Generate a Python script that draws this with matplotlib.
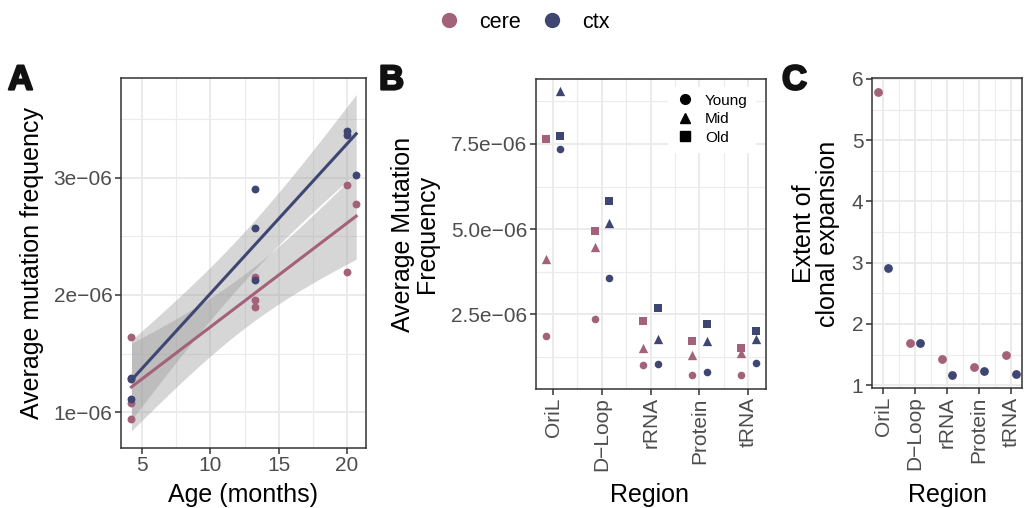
import numpy as np
import matplotlib.pyplot as plt
import matplotlib.patheffects as pe
from matplotlib.lines import Line2D
from matplotlib.ticker import FixedLocator, FuncFormatter

plt.rcParams['font.family'] = ['Liberation Sans', 'DejaVu Sans']

cere_col = "#A3617A"
ctx_col = "#3F4672"

# Panel A: age (months) vs average mutation frequency
ages = [4.2, 4.2, 4.2, 13.3, 13.3, 13.3, 20.0, 20.0, 20.7]
cere_freq = [1.645e-6, 1.08e-6, 0.945e-6, 2.156e-6, 1.957e-6, 1.90e-6, 2.938e-6, 2.199e-6, 2.776e-6]
ctx_freq = [1.29e-6, 1.28e-6, 1.11e-6, 2.90e-6, 2.57e-6, 2.13e-6, 3.395e-6, 3.367e-6, 3.023e-6]

# Panel B: average mutation frequency by region and age group
regions = ["OriL", "D\u2212Loop", "rRNA", "Protein", "tRNA"]
age_groups = ["Young", "Mid", "Old"]
cere_young = [1.875e-6, 2.356e-6, 1.007e-6, 0.722e-6, 0.722e-6]
cere_mid = [4.126e-6, 4.469e-6, 1.523e-6, 1.30e-6, 1.359e-6]
cere_old = [7.647e-6, 4.947e-6, 2.306e-6, 1.72e-6, 1.523e-6]
ctx_young = [7.344e-6, 3.568e-6, 1.045e-6, 0.819e-6, 1.066e-6]
ctx_mid = [9.064e-6, 5.173e-6, 1.787e-6, 1.72e-6, 1.787e-6]
ctx_old = [7.735e-6, 5.828e-6, 2.697e-6, 2.218e-6, 2.013e-6]

# Panel C: extent of clonal expansion
cere_clonal = [5.785, 1.685, 1.434, 1.30, 1.49]
ctx_clonal = [2.908, 1.69, 1.168, 1.238, 1.184]

W, H = 1025, 508
fig = plt.figure(figsize=(W / 100, H / 100), dpi=100)


def box(left, top, right, bottom):
    return [left / W, 1 - bottom / H, (right - left) / W, (bottom - top) / H]


def ftext(x, y, s, **kw):
    return fig.text(x / W, 1 - y / H, s, **kw)


def style(ax):
    for s in ax.spines.values():
        s.set_color("#333333")
        s.set_linewidth(1.1)
    ax.grid(which="major", color="#EBEBEB", lw=1.4)
    ax.grid(which="minor", color="#EBEBEB", lw=0.8)
    ax.set_axisbelow(True)
    ax.tick_params(which="major", length=4, width=1.1, color="#333333",
                   labelcolor="#4D4D4D", labelsize=15, pad=2)
    ax.tick_params(which="minor", length=0)


# ---- A ----
axA = fig.add_axes(box(120.7, 78.3, 366, 447.7))
style(axA)
x = np.array(ages)
xs = np.linspace(x.min(), x.max(), 80)
t975 = 2.365  # t quantile, df = 7
for yv, col in [(cere_freq, cere_col), (ctx_freq, ctx_col)]:
    y = np.array(yv)
    b, a = np.polyfit(x, y, 1)
    res = y - (a + b * x)
    s = np.sqrt(np.sum(res ** 2) / (len(x) - 2))
    se = s * np.sqrt(1 / len(x) + (xs - x.mean()) ** 2 / np.sum((x - x.mean()) ** 2))
    fit = a + b * xs
    axA.fill_between(xs, fit - t975 * se, fit + t975 * se, color="#999999", alpha=0.4, lw=0, zorder=2)
    axA.plot(xs, fit, color=col, lw=2.2, zorder=3)
    axA.scatter(x, y, color=col, s=32, lw=0, zorder=4)
axA.set_xlim(3.41, 21.42)
axA.set_ylim(0.698e-6, 3.847e-6)
axA.xaxis.set_major_locator(FixedLocator([5, 10, 15, 20]))
axA.xaxis.set_minor_locator(FixedLocator([7.5, 12.5, 17.5]))
axA.yaxis.set_major_locator(FixedLocator([1e-6, 2e-6, 3e-6]))
axA.yaxis.set_minor_locator(FixedLocator([1.5e-6, 2.5e-6, 3.5e-6]))
axA.yaxis.set_major_formatter(FuncFormatter(lambda v, p: f"{v * 1e6:g}e\u221206"))

# ---- B ----
axB = fig.add_axes(box(535.7, 79, 765.7, 389))
style(axB)
pos = np.arange(len(regions))
markers = ["o", "^", "s"]
sizes = [30, 45, 38]
for vals, off, col in [((cere_young, cere_mid, cere_old), -0.15, cere_col),
                       ((ctx_young, ctx_mid, ctx_old), 0.15, ctx_col)]:
    for v, m, sz in zip(vals, markers, sizes):
        axB.scatter(pos + off, v, marker=m, color=col, s=sz, lw=0, zorder=3)
axB.set_xlim(-0.355, 4.357)
axB.set_ylim(0.308e-6, 9.407e-6)
axB.xaxis.set_major_locator(FixedLocator(pos))
axB.xaxis.set_minor_locator(FixedLocator(pos[:-1] + 0.5))
axB.set_xticklabels(regions, rotation=90)
axB.yaxis.set_major_locator(FixedLocator([2.5e-6, 5e-6, 7.5e-6]))
axB.yaxis.set_minor_locator(FixedLocator([1.25e-6, 3.75e-6, 6.25e-6, 8.75e-6]))
axB.yaxis.set_major_formatter(FuncFormatter(lambda v, p: f"{v * 1e6:.1f}e\u221206"))
handles = [Line2D([], [], ls="", marker=m, color="black", ms=7) for m in markers]
leg = axB.legend(handles, age_groups, loc="upper right", fontsize=11, frameon=True,
                 handlelength=1.4, handletextpad=0.6, labelspacing=0.3, borderpad=0.45,
                 bbox_to_anchor=(0.985, 1.0))
leg.get_frame().set_edgecolor("white")
leg.get_frame().set_alpha(1)

# ---- C ----
axC = fig.add_axes(box(871.7, 78.3, 1022.3, 388.3))
style(axC)
axC.scatter(pos - 0.15, cere_clonal, color=cere_col, s=40, lw=0, zorder=3)
axC.scatter(pos + 0.15, ctx_clonal, color=ctx_col, s=40, lw=0, zorder=3)
axC.set_xlim(-0.36, 4.35)
axC.set_ylim(0.95, 6.01)
axC.xaxis.set_major_locator(FixedLocator(pos))
axC.xaxis.set_minor_locator(FixedLocator(pos[:-1] + 0.5))
axC.set_xticklabels(regions, rotation=90)
axC.yaxis.set_major_locator(FixedLocator([1, 2, 3, 4, 5, 6]))
axC.yaxis.set_minor_locator(FixedLocator([1.5, 2.5, 3.5, 4.5, 5.5]))

# titles and panel letters
ftext(32, 263, "Average mutation frequency", fontsize=18, rotation=90, ha="center", va="center")
ftext(243, 495, "Age (months)", fontsize=18, ha="center", va="center")
ftext(415, 234, "Average Mutation\nFrequency", fontsize=18, rotation=90, ha="center", va="center",
      linespacing=1.0)
ftext(650, 495, "Region", fontsize=18, ha="center", va="center")
ftext(816, 234, "Extent of\nclonal expansion", fontsize=18, rotation=90, ha="center", va="center",
      linespacing=1.0)
ftext(947, 495, "Region", fontsize=18, ha="center", va="center")
for lx, lab in [(8, "A"), (379, "B"), (782, "C")]:
    ftext(lx, 80, lab, fontsize=25, fontweight="bold", color="#111111", ha="left", va="center",
          path_effects=[pe.withStroke(linewidth=1.6, foreground="#111111")])

# shared colour legend on top
top_handles = [Line2D([], [], ls="", marker="o", color=c, ms=10) for c in (cere_col, ctx_col)]
fig.legend(top_handles, ["cere", "ctx"], loc="center", bbox_to_anchor=(524 / W, 1 - 22 / H),
           ncol=2, frameon=False, fontsize=15.5, handlelength=1.0, handletextpad=0.9,
           columnspacing=0.95)

fig.savefig("out.png", dpi=100)
